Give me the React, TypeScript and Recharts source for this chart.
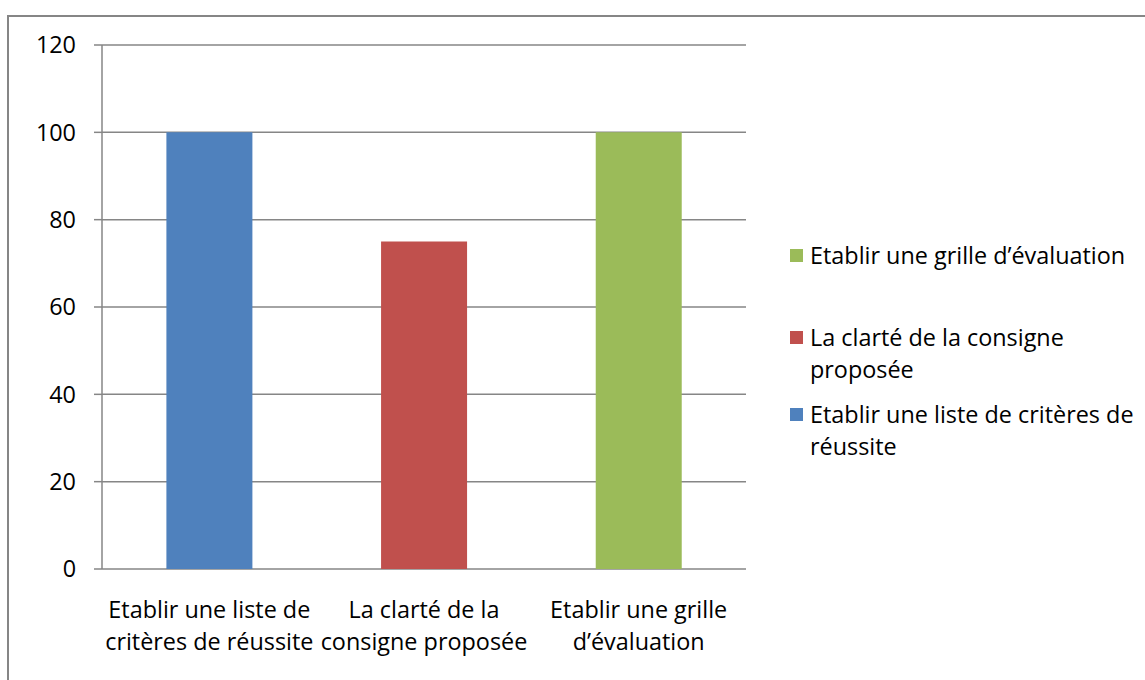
import React from 'react';
import { BarChart, Bar, XAxis, YAxis, CartesianGrid, Legend, Cell } from 'recharts';

const categoryLines = [
    ['Etablir une liste de', 'critères de réussite'],
    ['La clarté de la', 'consigne proposée'],
    ['Etablir une grille', 'd’évaluation'],
];
const values = [100, 75, 100];
const colors = ['#4F81BD', '#C0504D', '#9BBB59'];
const legendLines = [
    ['Etablir une grille d’évaluation'],
    ['La clarté de la consigne', 'proposée'],
    ['Etablir une liste de critères de', 'réussite'],
];
const legendColors = ['#9BBB59', '#C0504D', '#4F81BD'];
const yTicks = [0, 20, 40, 60, 80, 100, 120];

const FONT = '"Open Sans", sans-serif';
const FS = 23.4;
const GRAY = '#868686';

const data = categoryLines.map((lines, i) => ({
    name: lines.join(' '),
    lines,
    value: values[i],
}));

const CategoryTick = (props: any) => {
    const { x, y, payload } = props;
    const item = data[payload.index];
    return (
        <text x={x} y={y} textAnchor="middle" fill="#000" fontSize={FS} fontFamily={FONT}>
            {item.lines.map((l: string, i: number) => (
                <tspan key={i} x={x} dy={i === 0 ? 41 : 32}>{l}</tspan>
            ))}
        </text>
    );
};

const LegendContent = () => {
    const gaps = [0, 50, 13];
    return (
        <div style={{ fontFamily: FONT, fontSize: FS, color: '#000' }}>
            {legendLines.map((lines, i) => (
                <div key={i} style={{ position: 'relative', marginTop: gaps[i], paddingLeft: 20, lineHeight: '32px' }}>
                    <span style={{ position: 'absolute', left: 0, top: 10, width: 13, height: 13, background: legendColors[i] }} />
                    {lines.map((l, j) => <div key={j} style={{ whiteSpace: 'nowrap' }}>{l}</div>)}
                </div>
            ))}
        </div>
    );
};

export default function App() {
    return (
        <div style={{ position: 'absolute', left: 0, top: 0, width: 1145, height: 680, background: '#fff', overflow: 'hidden' }}>
            <div style={{
                position: 'absolute', left: 7, top: 15, width: 1150, height: 680,
                borderTop: `2px solid ${GRAY}`, borderLeft: `2px solid ${GRAY}`,
            }} />
            <div style={{ position: 'absolute', left: 0, top: 0 }}>
                <BarChart
                    width={1145}
                    height={680}
                    data={data}
                    margin={{ top: 45, right: 399, left: 0, bottom: 31 }}
                    barCategoryGap="30%"
                >
                    <CartesianGrid vertical={false} stroke={GRAY} strokeWidth={1.5} />
                    <XAxis
                        xAxisId="edges"
                        type="number"
                        domain={[0, 3]}
                        ticks={[0, 1, 2, 3]}
                        allowDataOverflow
                        height={0}
                        stroke={GRAY}
                        strokeWidth={1.5}
                        tickSize={7}
                        tickFormatter={() => ''}
                    />
                    <XAxis
                        dataKey="name"
                        height={80}
                        axisLine={false}
                        tickLine={false}
                        tick={<CategoryTick />}
                        interval={0}
                    />
                    <YAxis
                        width={102}
                        domain={[0, 120]}
                        ticks={yTicks}
                        stroke={GRAY}
                        strokeWidth={1.5}
                        tickSize={8}
                        tickMargin={18}
                        tick={{ fill: '#000', fontSize: FS, fontFamily: FONT }}
                    />
                    <Legend
                        layout="vertical"
                        content={<LegendContent />}
                        wrapperStyle={{ position: 'absolute', left: 790, top: 239, width: 355, height: 0, overflow: 'visible' }}
                    />
                    <Bar dataKey="value" isAnimationActive={false}>
                        {data.map((d, i) => <Cell key={i} fill={colors[i]} />)}
                    </Bar>
                </BarChart>
            </div>
        </div>
    );
}
